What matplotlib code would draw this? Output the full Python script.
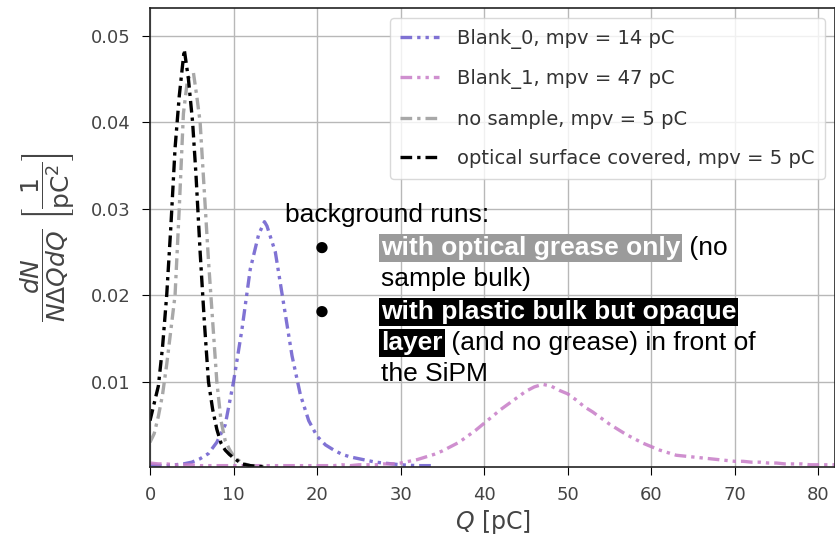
import matplotlib
matplotlib.use("Agg")
import matplotlib.pyplot as plt

# ---------------- data ----------------
q_blank0 = [0, 1, 2, 3, 4, 5, 6, 7, 8, 9, 10, 11, 12, 13, 13.7, 14, 15, 16, 17, 18, 19,
            20, 21, 22, 23, 24, 25, 26, 27, 28, 29, 30, 32, 34]
v_blank0 = [0.0004, 0.0003, 0.0003, 0.0004, 0.0005, 0.0007, 0.0011, 0.0017, 0.0030, 0.0050,
            0.0100, 0.0160, 0.0230, 0.0270, 0.0285, 0.0280, 0.0250, 0.0190, 0.0130, 0.0085,
            0.0055, 0.0037, 0.0027, 0.0021, 0.0016, 0.0013, 0.0011, 0.0009, 0.0007, 0.0006,
            0.0005, 0.0004, 0.0003, 0.0003]

q_blank1 = list(range(0, 83))
v_blank1 = [0.0006, 0.0005, 0.0005, 0.0004, 0.0004, 0.0004, 0.0003, 0.0003, 0.0003, 0.0003,
            0.0003, 0.0003, 0.0003, 0.0003, 0.0003, 0.0003, 0.0003, 0.0003, 0.0003, 0.0003,
            0.0003, 0.0003, 0.0003, 0.0004, 0.0003, 0.0004, 0.0004, 0.0004, 0.0005, 0.0005,
            0.0006, 0.0008, 0.0010, 0.0013, 0.0016, 0.0020, 0.0025, 0.0030, 0.0037, 0.0044,
            0.0052, 0.0060, 0.0068, 0.0075, 0.0082, 0.0089, 0.0094, 0.0097, 0.0095, 0.0090,
            0.0086, 0.0079, 0.0071, 0.0065, 0.0058, 0.0051, 0.0045, 0.0039, 0.0034, 0.0029,
            0.0025, 0.0021, 0.0018, 0.0015, 0.0014, 0.0013, 0.0012, 0.0011, 0.0010, 0.0009,
            0.0008, 0.0008, 0.0007, 0.0007, 0.0006, 0.0006, 0.0005, 0.0005, 0.0005, 0.0004,
            0.0004, 0.0004, 0.0004]

q_nosample = [0, 0.5, 1.0, 1.5, 2.0, 2.5, 3.0, 3.5, 4.0, 4.5, 5.2, 5.6, 6.0, 6.5, 7.0, 7.5,
              8.0, 8.5, 9.0, 9.5, 10.0, 11.0, 12.0, 13.0, 14.0]
v_nosample = [0.0030, 0.0040, 0.0060, 0.0085, 0.0120, 0.0160, 0.0200, 0.0300, 0.0410, 0.0450,
              0.0457, 0.0430, 0.0400, 0.0320, 0.0240, 0.0170, 0.0100, 0.0055, 0.0032, 0.0022,
              0.0014, 0.0006, 0.0003, 0.0002, 0.0002]

q_covered = [0, 0.5, 1.0, 1.5, 2.0, 2.5, 3.0, 3.5, 4.1, 4.6, 5.1, 5.5, 6.0, 6.5, 7.0, 7.5,
             8.0, 8.5, 9.0, 9.5, 10.0, 11.0, 12.0, 13.0, 14.0]
v_covered = [0.0055, 0.0075, 0.0095, 0.0140, 0.0200, 0.0280, 0.0370, 0.0430, 0.0484, 0.0450,
             0.0400, 0.0340, 0.0250, 0.0170, 0.0100, 0.0068, 0.0045, 0.0029, 0.0021, 0.0016,
             0.0012, 0.0005, 0.0003, 0.0002, 0.0002]

labels = ["Blank_0, mpv = 14 pC", "Blank_1, mpv = 47 pC",
          "no sample, mpv = 5 pC", "optical surface covered, mpv = 5 pC"]
x_ticks = [0, 10, 20, 30, 40, 50, 60, 70, 80]
y_ticks = [0.01, 0.02, 0.03, 0.04, 0.05]

# ---------------- figure ----------------
W, H = 835, 538
fig = plt.figure(figsize=(W / 100, H / 100), dpi=100)
ax = fig.add_axes([150 / W, (H - 466.5) / H, (W - 150) / W, (466.5 - 8) / H])

ddot = (0, (3.5, 1.5, 1, 1.5, 1, 1.5))
dashdot = (0, (3.5, 1.5, 1, 1.5))
ax.plot(q_blank0, v_blank0, color="#6a5acd", lw=2.4, ls=ddot, alpha=0.85, label=labels[0])
ax.plot(q_blank1, v_blank1, color="#c77cc7", lw=2.4, ls=ddot, alpha=0.85, label=labels[1])
ax.plot(q_nosample, v_nosample, color="#a8a8a8", lw=2.4, ls=dashdot, label=labels[2])
ax.plot(q_covered, v_covered, color="black", lw=2.4, ls=dashdot, label=labels[3])

ax.set_xlim(0, 82)
ax.set_ylim(0.0002, 0.0532)
ax.set_xticks(x_ticks)
ax.set_yticks(y_ticks)
ax.set_yticklabels([f"{t:.2f}" for t in y_ticks])
ax.grid(True, color="#b8b8b8", lw=1.0)
ax.set_axisbelow(True)
ax.tick_params(labelsize=13, colors="#444444", length=6, pad=8)
ax.tick_params(axis="both", color="black")
for s in ax.spines.values():
    s.set_color("#222222")
    s.set_linewidth(1.2)

ax.set_xlabel("$Q$ [pC]", fontsize=17, color="#444444", labelpad=3)
ax.set_ylabel(r"$\dfrac{dN}{N\Delta Q dQ}\ \left[\dfrac{1}{\mathrm{pC}^2}\right]$",
              fontsize=18, color="#444444", labelpad=10)

leg = ax.legend(loc="upper right", fontsize=14.0, frameon=True, framealpha=0.8,
                edgecolor="#d0d0d0", handlelength=2.0, handletextpad=0.9,
                borderpad=0.55, labelspacing=1.05, borderaxespad=0,
                bbox_to_anchor=(1 - 10 / 685, 1 - 10 / 458))
for t in leg.get_texts():
    t.set_color("#333333")

# ---------------- annotation text (mixed styles) ----------------
FS = 19
fam = ["Liberation Sans", "DejaVu Sans"]
fig.canvas.draw()
renderer = fig.canvas.get_renderer()


def put(x, y, s, bold=False, color="black", bg=None):
    kw = dict(fontsize=FS, family=fam, color=color, va="baseline", ha="left",
              fontweight="bold" if bold else "normal", transform=None)
    if bg is not None:
        kw["bbox"] = dict(boxstyle="square,pad=0.08", facecolor=bg, edgecolor="none")
    t = fig.text(x, H - y, s, **kw)
    ext = t.get_window_extent(renderer=renderer)
    return ext.x1


put(285, 222, "background runs:")
put(314, 255, "\u25CF", color="black")
x = put(381, 255, "with optical grease only", bold=True, color="white", bg="#9b9b9b")
put(x + 2, 255, " (no")
put(381, 286, "sample bulk)")
put(314, 319, "\u25CF", color="black")
put(381, 319, "with plastic bulk but opaque", bold=True, color="white", bg="black")
x = put(381, 350, "layer", bold=True, color="white", bg="black")
put(x + 2, 350, " (and no grease) in front of")
put(381, 381, "the SiPM")

fig.savefig("out.png", dpi=100)
